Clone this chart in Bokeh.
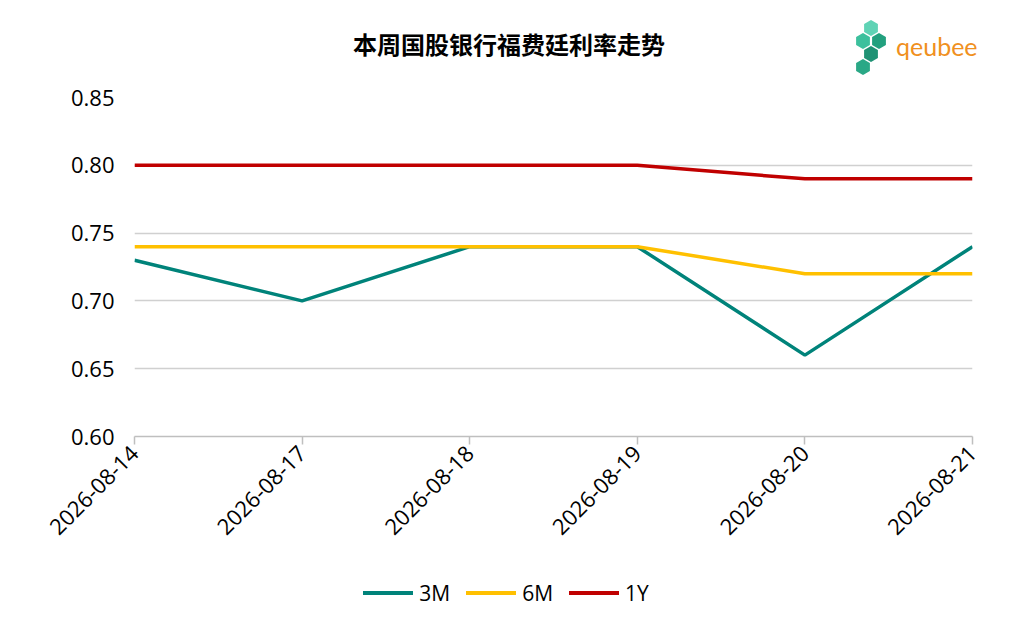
from bokeh.plotting import figure
from bokeh.models import FixedTicker, Range1d, Div
from bokeh.layouts import column
from bokeh.embed import file_html
from bokeh.resources import INLINE
import math

dates = ["2026-08-14", "2026-08-17", "2026-08-18", "2026-08-19", "2026-08-20", "2026-08-21"]
r3m = [0.73, 0.70, 0.74, 0.74, 0.66, 0.74]
r6m = [0.74, 0.74, 0.74, 0.74, 0.72, 0.72]
r1y = [0.80, 0.80, 0.80, 0.80, 0.79, 0.79]
yticks = [0.60, 0.65, 0.70, 0.75, 0.80, 0.85]
series = [("3M", r3m, "#00837a"), ("6M", r6m, "#ffc000"), ("1Y", r1y, "#c00000")]

FONT = "Open Sans"
xs = list(range(len(dates)))


def hexagon(cx, cy, r, col):
    pts = " ".join(f"{cx + r * math.cos(math.radians(a)):.1f},{cy + r * math.sin(math.radians(a)):.1f}"
                   for a in range(30, 390, 60))
    return f'<polygon points="{pts}" fill="{col}"/>'


logo = "".join(hexagon(cx, cy, 8, c) for cx, cy, c in
               [(18, 9, "#5fd3b5"), (10, 22, "#3cc09d"), (26, 22, "#22a07e"),
                (18, 35, "#1f9274"), (10, 48, "#2aa886")])

header = Div(width=1008, height=70, text=f"""
<div style="position:relative;width:1008px;height:70px;">
  <div style="position:absolute;left:0;width:1008px;top:22px;text-align:center;
       font-family:'Noto Sans CJK SC';font-weight:bold;font-size:24px;color:#000;">本周国股银行福费廷利率走势</div>
  <svg style="position:absolute;left:848px;top:14px;" width="40" height="60">{logo}</svg>
  <div style="position:absolute;left:891px;top:24px;font-family:Lato;font-size:25px;color:#f0901e;">qeubee</div>
</div>""")

p = figure(width=1008, height=486, output_backend="svg", toolbar_location=None,
           x_range=Range1d(0, len(dates) - 1), y_range=Range1d(0.60, 0.85),
           min_border_left=134, min_border_right=36, min_border_top=17, min_border_bottom=130)
p.outline_line_color = None
p.xgrid.grid_line_color = None
p.ygrid.grid_line_color = "#d0d0d0"
p.ygrid.grid_line_width = 1.5

p.yaxis.ticker = FixedTicker(ticks=yticks)
p.yaxis.major_label_overrides = {t: "%.2f" % t for t in yticks}
p.xaxis.ticker = FixedTicker(ticks=xs)
p.xaxis.major_label_overrides = {i: d for i, d in enumerate(dates)}
p.xaxis.major_label_orientation = math.pi / 4
for ax in (p.xaxis, p.yaxis):
    ax.major_label_text_font = FONT
    ax.major_label_text_font_size = "22px"
    ax.major_label_text_color = "#000000"
    ax.axis_line_color = "#bfbfbf"
    ax.axis_line_width = 1.5
    ax.major_tick_line_color = "#bfbfbf"
    ax.major_tick_line_width = 1.5
    ax.major_tick_out = 8
    ax.major_tick_in = 0
    ax.minor_tick_line_color = None
p.yaxis.axis_line_color = None
p.yaxis.major_tick_line_color = None
p.yaxis.major_label_standoff = 12

for name, vals, col in series:
    p.line(xs, vals, line_color=col, line_width=3.5)

items = "".join(
    f'<span style="display:inline-block;width:50px;height:4px;background:{col};vertical-align:middle;"></span>'
    f'<span style="display:inline-block;margin:0 16px 0 6px;vertical-align:middle;">{name}</span>'
    for name, vals, col in series)
legend = Div(width=1008, height=60, text=f"""
<div style="width:1008px;padding-top:6px;padding-left:10px;box-sizing:border-box;text-align:center;
     font-family:'Open Sans';font-size:21px;color:#000;line-height:28px;">{items}</div>""")

open("out.html", "w").write(file_html(column(header, p, legend, spacing=0), INLINE))
